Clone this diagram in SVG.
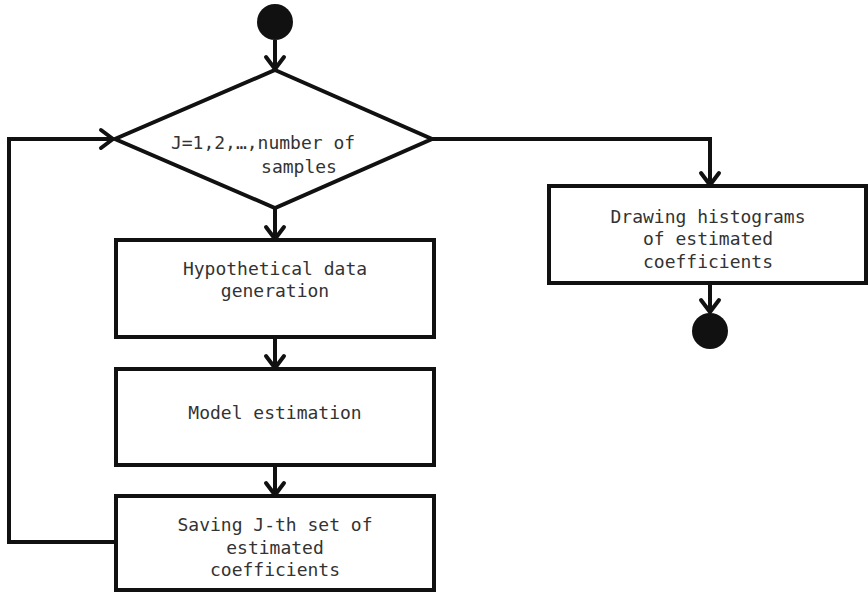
<svg xmlns="http://www.w3.org/2000/svg" width="868" height="593" viewBox="0 0 868 593">
<style>
.shape{fill:#fff;stroke:#111;stroke-width:4}
.dot{fill:#111}
.conn{fill:none;stroke:#111;stroke-width:4;marker-end:url(#arr)}
text{font-family:"DejaVu Sans Mono","Liberation Mono",monospace;font-size:18px;fill:#333;text-anchor:middle}
</style>
<defs>
<marker id="arr" markerUnits="userSpaceOnUse" markerWidth="30" markerHeight="30" viewBox="-15 -15 30 30" refX="0" refY="0" orient="auto" overflow="visible">
<path d="M-12,-9 L0,0 L-12,9" fill="none" stroke="#111" stroke-width="4" stroke-linejoin="round" stroke-linecap="round"/>
</marker>
</defs>
<rect width="868" height="593" fill="#fff"/>
<g id="connectors">
<line class="conn" x1="275" y1="40" x2="275" y2="69"/>
<line class="conn" x1="275" y1="208" x2="275" y2="239"/>
<line class="conn" x1="275" y1="337" x2="275" y2="368"/>
<line class="conn" x1="275" y1="465" x2="275" y2="495"/>
<path class="conn" d="M116,542 H9 V139 H113"/>
<path class="conn" d="M432,139 H710 V185"/>
<line class="conn" x1="710" y1="283" x2="710" y2="312"/>
</g>
<g id="start"><circle class="dot" cx="275" cy="22" r="18"/></g>
<g id="decision">
<polygon class="shape" points="275,70 432,139 275,208 115,139"/>
<text x="263" y="149">J=1,2,…,number of</text>
<text x="299" y="173">samples</text>
</g>
<g id="generation">
<rect class="shape" x="116" y="240" width="318" height="97"/>
<text x="275" y="275">Hypothetical data</text>
<text x="275" y="297">generation</text>
</g>
<g id="estimation">
<rect class="shape" x="116" y="369" width="318" height="96"/>
<text x="275" y="419">Model estimation</text>
</g>
<g id="saving">
<rect class="shape" x="116" y="496" width="318" height="94"/>
<text x="275" y="531">Saving J-th set of</text>
<text x="275" y="554">estimated</text>
<text x="275" y="576">coefficients</text>
</g>
<g id="histograms">
<rect class="shape" x="549" y="186" width="317" height="97"/>
<text x="708" y="223">Drawing histograms</text>
<text x="708" y="245">of estimated</text>
<text x="708" y="268">coefficients</text>
</g>
<g id="end"><circle class="dot" cx="710" cy="331" r="18"/></g>
</svg>
